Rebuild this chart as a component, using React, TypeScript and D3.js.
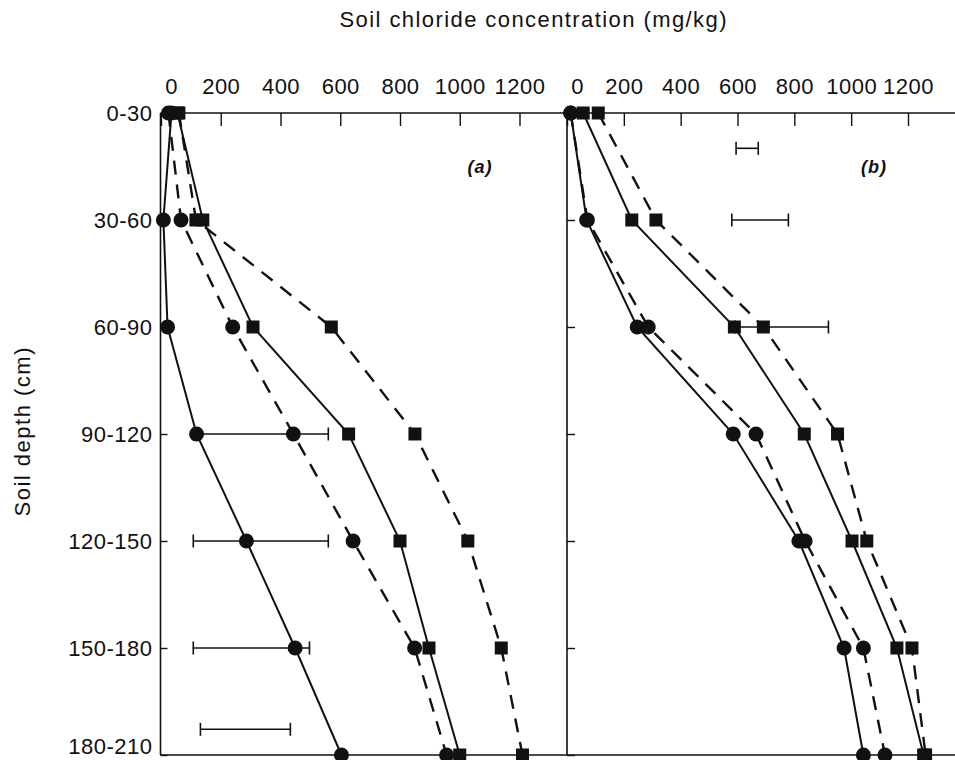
import React, { useEffect, useRef } from "react";
import * as d3 from "d3";

const depths = ["0-30", "30-60", "60-90", "90-120", "120-150", "150-180", "180-210"];
const xTicks = [0, 200, 400, 600, 800, 1000, 1200];

// panel (a)
const aSolidCircle = [35, 8, 22, 119, 286, 449, 604];
const aDashedCircle = [25, 67, 240, 443, 643, 849, 956];
const aSolidSquare = [55, 140, 308, 628, 800, 897, 1000];
const aDashedSquare = [60, 117, 570, 850, 1027, 1139, 1210];
// LSD bars: depth index, low end, high end
const aBarPos = [3, 4, 5, 5.76];
const aBarLo = [107, 108, 108, 132];
const aBarHi = [560, 560, 497, 433];

// panel (b)
const bSolidCircle = [13, 69, 247, 585, 816, 975, 1043];
const bDashedCircle = [13, 72, 286, 665, 838, 1043, 1119];
const bSolidSquare = [57, 228, 589, 835, 1003, 1161, 1255];
const bDashedSquare = [110, 313, 691, 952, 1055, 1214, 1262];
const bBarPos = [0.33, 1, 2];
const bBarLo = [595, 580, 592];
const bBarHi = [673, 779, 920];

const ink = "#111";
const font = "'Liberation Sans', Arial, Helvetica, sans-serif";

export default function App() {
  const svgRef = useRef<SVGSVGElement>(null);

  useEffect(() => {
    const width = 955;
    const height = 760;
    const svg = d3.select(svgRef.current).attr("width", width).attr("height", height);
    svg.selectAll("*").remove();

    const top = 113;
    const bottom = 755;
    const left = 160.5;
    const mid = 567;

    const y = d3.scaleLinear().domain([0, depths.length - 1]).range([top, bottom]);
    const xa = d3.scaleLinear().domain([0, 1200]).range([161, 519.5]);
    const xb = d3.scaleLinear().domain([0, 1200]).range([567, 908]);

    // titles
    svg
      .append("text")
      .attr("x", 533)
      .attr("y", 27)
      .attr("text-anchor", "middle")
      .attr("font-family", font)
      .attr("font-size", 22)
      .attr("fill", ink)
      .attr("textLength", 387)
      .attr("lengthAdjust", "spacing")
      .text("Soil chloride concentration (mg/kg)");

    svg
      .append("text")
      .attr("transform", "translate(30,432) rotate(-90)")
      .attr("text-anchor", "middle")
      .attr("font-family", font)
      .attr("font-size", 22)
      .attr("fill", ink)
      .attr("textLength", 169)
      .attr("lengthAdjust", "spacing")
      .text("Soil depth (cm)");

    // frame
    const frame = svg.append("g").attr("stroke", ink).attr("stroke-width", 1.6);
    frame.append("line").attr("x1", left).attr("x2", width).attr("y1", top).attr("y2", top);
    frame.append("line").attr("x1", left).attr("x2", width).attr("y1", bottom).attr("y2", bottom);
    frame.append("line").attr("x1", left).attr("x2", left).attr("y1", top).attr("y2", bottom);
    frame.append("line").attr("x1", mid).attr("x2", mid).attr("y1", top).attr("y2", bottom);

    const styleAxis = (g) => {
      g.select(".domain").remove();
      g.selectAll("line").attr("stroke", ink).attr("stroke-width", 1.4);
      g.selectAll("text")
        .attr("font-family", font)
        .attr("font-size", 22)
        .attr("letter-spacing", 0.5)
        .attr("fill", ink);
    };

    // top axes
    [xa, xb].forEach((x) => {
      const g = svg
        .append("g")
        .attr("transform", `translate(0,${top})`)
        .call(
          d3
            .axisTop(x)
            .tickValues(xTicks)
            .tickFormat(d3.format("d"))
            .tickSizeInner(-13)
            .tickSizeOuter(0)
            .tickPadding(19)
        )
        .call(styleAxis);
      g.selectAll(".tick")
        .filter((d) => d === 0)
        .select("text")
        .attr("x", 10);
    });

    // left axis with labels
    const yAxisG = svg
      .append("g")
      .attr("transform", `translate(${left},0)`)
      .call(
        d3
          .axisLeft(y)
          .tickValues(d3.range(depths.length))
          .tickFormat((i) => depths[i])
          .tickSizeInner(-7)
          .tickSizeOuter(0)
          .tickPadding(8)
      )
      .call(styleAxis);
    // keep the last label inside the picture
    yAxisG
      .selectAll(".tick")
      .filter((d) => d === depths.length - 1)
      .select("text")
      .attr("y", -9);

    // middle axis ticks (panel b)
    svg
      .append("g")
      .attr("transform", `translate(${mid},0)`)
      .call(
        d3
          .axisLeft(y)
          .tickValues(d3.range(depths.length))
          .tickFormat(() => "")
          .tickSizeInner(-8)
          .tickSizeOuter(0)
      )
      .call(styleAxis);

    const drawPanel = (x, series, barPos, barLo, barHi, label, labelX) => {
      const g = svg.append("g");
      const line = d3
        .line<number>()
        .x((v) => x(v))
        .y((_, i) => y(i));

      series.forEach((s) => {
        g.append("path")
          .attr("d", line(s.values))
          .attr("fill", "none")
          .attr("stroke", ink)
          .attr("stroke-width", s.dashed ? 2.4 : 2)
          .attr("stroke-dasharray", s.dashed ? "14,10" : null);
      });

      series.forEach((s) => {
        if (s.shape === "circle") {
          g.selectAll(null)
            .data(s.values)
            .join("circle")
            .attr("cx", (v) => x(v))
            .attr("cy", (_, i) => y(i))
            .attr("r", 7.5)
            .attr("fill", ink);
        } else {
          g.selectAll(null)
            .data(s.values)
            .join("rect")
            .attr("x", (v) => x(v) - 6.5)
            .attr("y", (_, i) => y(i) - 6.5)
            .attr("width", 13)
            .attr("height", 13)
            .attr("fill", ink);
        }
      });

      // LSD bars
      const bars = g.append("g").attr("stroke", ink).attr("stroke-width", 1.6);
      barPos.forEach((p, i) => {
        const yy = y(p);
        bars.append("line").attr("x1", x(barLo[i])).attr("x2", x(barHi[i])).attr("y1", yy).attr("y2", yy);
        [barLo[i], barHi[i]].forEach((v) => {
          bars
            .append("line")
            .attr("x1", x(v))
            .attr("x2", x(v))
            .attr("y1", yy - 6.5)
            .attr("y2", yy + 6.5);
        });
      });

      g.append("text")
        .attr("x", labelX)
        .attr("y", 173)
        .attr("text-anchor", "middle")
        .attr("font-family", font)
        .attr("font-size", 18)
        .attr("font-weight", "bold")
        .attr("font-style", "italic")
        .attr("letter-spacing", 1)
        .attr("fill", ink)
        .text(label);
    };

    drawPanel(
      xa,
      [
        { values: aSolidCircle, shape: "circle", dashed: false },
        { values: aDashedCircle, shape: "circle", dashed: true },
        { values: aSolidSquare, shape: "square", dashed: false },
        { values: aDashedSquare, shape: "square", dashed: true },
      ],
      aBarPos,
      aBarLo,
      aBarHi,
      "(a)",
      480
    );

    drawPanel(
      xb,
      [
        { values: bSolidCircle, shape: "circle", dashed: false },
        { values: bDashedCircle, shape: "circle", dashed: true },
        { values: bSolidSquare, shape: "square", dashed: false },
        { values: bDashedSquare, shape: "square", dashed: true },
      ],
      bBarPos,
      bBarLo,
      bBarHi,
      "(b)",
      874
    );
  }, []);

  return (
    <svg
      ref={svgRef}
      style={{ position: "absolute", left: 0, top: 0, background: "#fff" }}
    ></svg>
  );
}
